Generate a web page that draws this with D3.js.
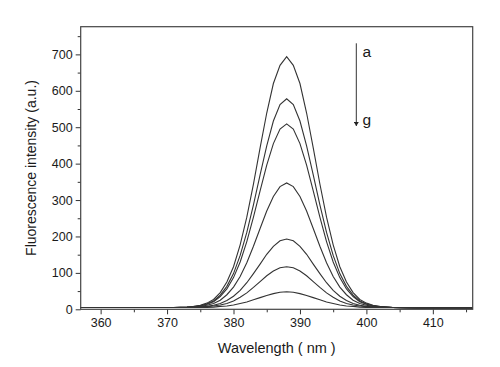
<!DOCTYPE html>
<html>
<head>
<meta charset="utf-8">
<script src="https://cdn.jsdelivr.net/npm/d3@7/dist/d3.min.js"></script>
<style>
  body { margin: 0; background: #fff; }
  svg { display: block; font-family: "Liberation Sans", Arial, sans-serif; }
</style>
</head>
<body>
<div id="chart"></div>
<script>
// wavelength (nm) and the seven emission spectra, a (top) to g (bottom)
var wavelengths = [357, 362, 367, 371, 373, 374, 375, 376, 377, 378, 379, 380, 381, 382, 383, 384, 385, 386, 387,
    388, 389, 390, 391, 392, 393, 394, 395, 396, 397, 398, 399, 400, 401, 402, 404, 408, 412, 416];
var seriesA = [5, 5, 5, 5, 6, 8, 11, 17, 27, 46, 75, 117, 177, 253, 344, 443, 539, 620, 670,
    694, 670, 620, 539, 443, 344, 253, 177, 117, 75, 46, 27, 17, 11, 8, 5, 4, 4, 4];
var seriesB = [5, 5, 5, 5, 6, 7, 10, 15, 23, 39, 63, 98, 148, 211, 287, 369, 449, 517, 562,
    578, 562, 517, 449, 369, 287, 211, 148, 98, 63, 39, 23, 15, 10, 7, 5, 4, 4, 4];
var seriesC = [5, 5, 5, 5, 6, 7, 9, 14, 21, 35, 56, 87, 130, 186, 253, 325, 396, 455, 495,
    509, 495, 455, 396, 325, 253, 186, 130, 87, 56, 35, 21, 14, 9, 7, 5, 4, 4, 4];
var seriesD = [5, 5, 5, 5, 5, 6, 8, 11, 16, 25, 40, 61, 90, 128, 173, 222, 270, 310, 337,
    347, 337, 310, 270, 222, 173, 128, 90, 61, 40, 25, 16, 11, 8, 6, 5, 4, 4, 4];
var seriesE = [5, 5, 5, 5, 5, 6, 7, 8, 11, 16, 24, 36, 52, 73, 98, 124, 151, 173, 188,
    193, 188, 173, 151, 124, 98, 73, 52, 36, 24, 16, 11, 8, 7, 6, 5, 4, 4, 4];
var seriesF = [5, 5, 5, 5, 5, 5, 6, 7, 9, 12, 16, 23, 33, 45, 60, 76, 92, 105, 114,
    117, 114, 105, 92, 76, 60, 45, 33, 23, 16, 12, 9, 7, 6, 5, 5, 4, 4, 4];
var seriesG = [5, 5, 5, 5, 5, 5, 5, 5, 6, 8, 9, 12, 16, 20, 26, 32, 38, 43, 47,
    48, 47, 43, 38, 32, 26, 20, 16, 12, 9, 8, 6, 5, 5, 5, 5, 4, 4, 4];
var allSeries = [seriesA, seriesB, seriesC, seriesD, seriesE, seriesF, seriesG];

var xTicks = [360, 370, 380, 390, 400, 410];
var xMinor = [365, 375, 385, 395, 405, 415];
var yTicks = [0, 100, 200, 300, 400, 500, 600, 700];
var yMinor = [50, 150, 250, 350, 450, 550, 650, 750];

var width = 500, height = 367;
var margin = { top: 26.7, right: 27.3, bottom: 57.7, left: 80.7 };
var plotW = width - margin.left - margin.right,
    plotH = height - margin.top - margin.bottom;

var svg = d3.select('#chart').append('svg')
    .attr('width', width)
    .attr('height', height);

var g = svg.append('g')
    .attr('transform', 'translate(' + margin.left + ',' + margin.top + ')');

var x = d3.scaleLinear().domain([357, 416]).range([0, plotW]);
var y = d3.scaleLinear().domain([0, 776]).range([plotH, 0]);

/* spectra */
var line = d3.line()
    .x(function(d, i) { return x(wavelengths[i]); })
    .y(function(d) { return y(d); });

g.selectAll('path.spectrum')
    .data(allSeries)
    .enter()
    .append('path')
    .attr('class', 'spectrum')
    .attr('d', line)
    .attr('fill', 'none')
    .attr('stroke', '#333')
    .attr('stroke-width', 1.1);

/* axes */
var xAxis = g.append('g')
    .attr('transform', 'translate(0,' + plotH + ')')
    .call(d3.axisBottom(x).tickValues(xTicks).tickSize(5).tickPadding(4).tickFormat(d3.format('d')));
xAxis.append('g').call(d3.axisBottom(x).tickValues(xMinor).tickSize(3).tickFormat(''));

var yAxis = g.append('g')
    .call(d3.axisLeft(y).tickValues(yTicks).tickSize(5).tickPadding(3).tickFormat(d3.format('d')));
yAxis.append('g').call(d3.axisLeft(y).tickValues(yMinor).tickSize(3).tickFormat(''));

g.selectAll('.domain').remove();
g.selectAll('.tick line').attr('stroke', '#333');
g.selectAll('.tick text')
    .attr('fill', '#1a1a1a')
    .style('font-size', '12.5px')
    .style('font-family', '"Liberation Sans", Arial, sans-serif');

/* frame */
g.append('rect')
    .attr('width', plotW)
    .attr('height', plotH)
    .attr('fill', 'none')
    .attr('stroke', '#444')
    .attr('stroke-width', 1.2);

/* axis titles */
svg.append('text')
    .attr('x', margin.left + plotW / 2)
    .attr('y', 353)
    .attr('text-anchor', 'middle')
    .attr('fill', '#1a1a1a')
    .style('font-size', '14.5px')
    .text('Wavelength ( nm )');

svg.append('text')
    .attr('transform', 'translate(36,' + (margin.top + plotH / 2) + ') rotate(-90)')
    .attr('text-anchor', 'middle')
    .attr('fill', '#1a1a1a')
    .style('font-size', '14px')
    .text('Fluorescence intensity (a.u.)');

/* a -> g arrow */
svg.append('defs').append('marker')
    .attr('id', 'head')
    .attr('viewBox', '0 0 8 10')
    .attr('refX', 8)
    .attr('refY', 5)
    .attr('markerWidth', 7)
    .attr('markerHeight', 5)
    .attr('markerUnits', 'userSpaceOnUse')
    .attr('orient', 'auto')
    .append('path')
    .attr('d', 'M0,0 L8,5 L0,10 Z')
    .attr('fill', '#222');

svg.append('line')
    .attr('x1', 356.3).attr('y1', 43.3)
    .attr('x2', 356.3).attr('y2', 126)
    .attr('stroke', '#333')
    .attr('stroke-width', 1)
    .attr('marker-end', 'url(#head)');

svg.append('text')
    .attr('x', 362.5).attr('y', 56.5)
    .attr('fill', '#1a1a1a')
    .style('font-size', '15.5px')
    .text('a');

svg.append('text')
    .attr('x', 362.5).attr('y', 125)
    .attr('fill', '#1a1a1a')
    .style('font-size', '15.5px')
    .text('g');
</script>
</body>
</html>
